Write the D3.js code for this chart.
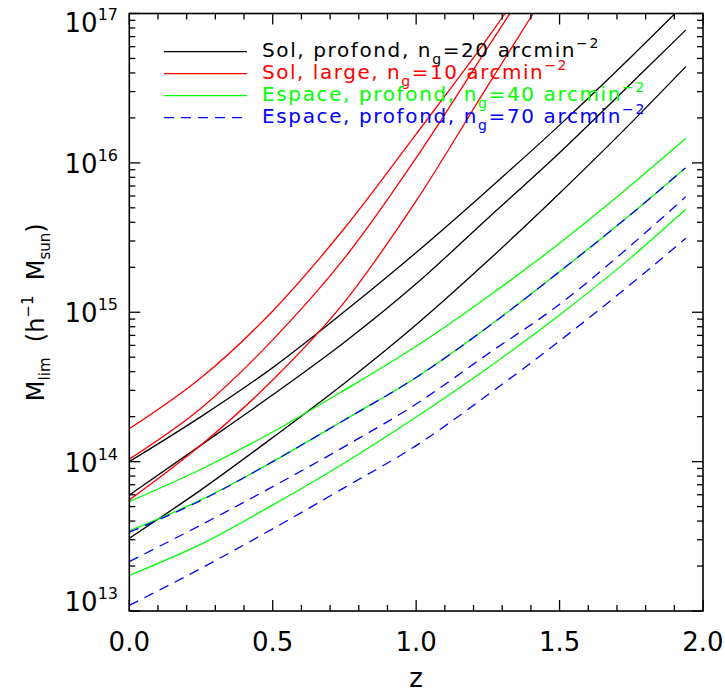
<!DOCTYPE html>
<html>
<head>
<meta charset="utf-8">
<script src="https://cdn.jsdelivr.net/npm/d3@7"></script>
<style>
  body { margin: 0; background: #fff; }
  svg { display: block; }
  text { font-family: "DejaVu Sans", sans-serif; }
</style>
</head>
<body>
<div id="chart"></div>
<script>
// ---- data ----
const zGrid = [0, 0.25, 0.5, 0.75, 1.0, 1.25, 1.5, 1.75, 1.94];

// Sol, profond (black)
const solProfond1 = [1.00e14, 2.00e14, 4.26e14, 1.01e15, 2.51e15, 6.59e15, 1.79e16, 5.14e16, 1.18e17];
const solProfond2 = [5.98e13, 1.29e14, 2.80e14, 6.30e14, 1.55e15, 4.26e15, 1.17e16, 3.41e16, 7.76e16];
const solProfond3 = [3.07e13, 6.47e13, 1.45e14, 3.35e14, 8.25e14, 2.21e15, 6.26e15, 1.86e16, 4.41e16];

// Sol, large (red) — each leaves the top of the frame
const zRed1 = [0, 0.25, 0.5, 0.75, 1.0, 1.25, 1.31];
const solLarge1 = [1.66e14, 3.64e14, 1.02e15, 3.65e15, 1.56e16, 6.86e16, 1.0e17];
const zRed2 = [0, 0.25, 0.5, 0.75, 1.0, 1.25, 1.327];
const solLarge2 = [1.04e14, 2.28e14, 6.53e14, 2.30e15, 1.08e16, 5.94e16, 1.0e17];
const zRed3 = [0, 0.25, 0.5, 0.75, 1.0, 1.25, 1.408];
const solLarge3 = [5.54e13, 1.29e14, 3.52e14, 1.17e15, 5.56e15, 3.29e16, 1.0e17];

// Espace, profond, ng=40 (green)
const espace40a = [5.40e13, 8.89e13, 1.58e14, 3.01e14, 5.92e14, 1.27e15, 2.90e15, 7.11e15, 1.46e16];
const espace40b = [3.44e13, 5.54e13, 1.00e14, 1.90e14, 3.66e14, 7.97e14, 1.87e15, 4.55e15, 9.29e15];
const espace40c = [1.73e13, 2.80e13, 5.13e13, 9.80e13, 1.99e14, 4.24e14, 9.59e14, 2.33e15, 4.89e15];

// Espace, profond, ng=70 (blue dashed)
const espace70a = [3.37e13, 5.50e13, 1.00e14, 1.90e14, 3.66e14, 7.97e14, 1.87e15, 4.55e15, 9.30e15];
const espace70b = [2.14e13, 3.77e13, 6.80e13, 1.26e14, 2.43e14, 5.26e14, 1.13e15, 2.82e15, 5.94e15];
const espace70c = [1.09e13, 1.93e13, 3.55e13, 6.70e13, 1.28e14, 2.80e14, 6.43e14, 1.55e15, 3.13e15];

const xTicks = [0.0, 0.5, 1.0, 1.5, 2.0];
const xTickLabels = ["0.0", "0.5", "1.0", "1.5", "2.0"];
const yDecades = [13, 14, 15, 16, 17];

const legendItems = [
  {label: "Sol, profond, ", ng: "20", color: "#000000", dash: null, end: 600},
  {label: "Sol, large, ", ng: "10", color: "#ff0000", dash: null, end: 568},
  {label: "Espace, profond, ", ng: "40", color: "#00ff00", dash: null, end: 646},
  {label: "Espace, profond, ", ng: "70", color: "#0000ff", dash: "10,7", end: 646}
];

const series = [
  {z: zGrid, m: solProfond1, color: "#000000"},
  {z: zGrid, m: solProfond2, color: "#000000"},
  {z: zGrid, m: solProfond3, color: "#000000"},
  {z: zRed1, m: solLarge1, color: "#ff0000"},
  {z: zRed2, m: solLarge2, color: "#ff0000"},
  {z: zRed3, m: solLarge3, color: "#ff0000"},
  {z: zGrid, m: espace40a, color: "#00ff00"},
  {z: zGrid, m: espace40b, color: "#00ff00"},
  {z: zGrid, m: espace40c, color: "#00ff00"},
  {z: zGrid, m: espace70a, color: "#0000ff", dash: "10,7"},
  {z: zGrid, m: espace70b, color: "#0000ff", dash: "10,7"},
  {z: zGrid, m: espace70c, color: "#0000ff", dash: "10,7"}
];

// ---- layout ----
const W = 725, H = 692;
const L = 129.3, R = 703, T = 13.5, B = 611;

const svg = d3.select("#chart").append("svg").attr("width", W).attr("height", H);

const x = d3.scaleLinear().domain([0, 2]).range([L, R]);
const y = d3.scaleLog().domain([1e13, 1e17]).range([B, T]);

svg.append("clipPath").attr("id", "clip")
  .append("rect").attr("x", L).attr("y", T).attr("width", R - L).attr("height", B - T);

// ---- curves ----
const line = d3.line()
  .x(d => x(d[0]))
  .y(d => y(d[1]))
  .curve(d3.curveMonotoneX);

const plot = svg.append("g").attr("clip-path", "url(#clip)");
series.forEach(s => {
  plot.append("path")
    .datum(s.z.map((zz, i) => [zz, s.m[i]]))
    .attr("d", line)
    .attr("fill", "none")
    .attr("stroke", s.color)
    .attr("stroke-width", 1.3)
    .attr("stroke-dasharray", s.dash || null);
});

// ---- frame & ticks ----
const axisColor = "#000";
svg.append("rect").attr("x", L).attr("y", T).attr("width", R - L).attr("height", B - T)
  .attr("fill", "none").attr("stroke", axisColor).attr("stroke-width", 1.6);

const majLen = 11, minLen = 6;
const tickG = svg.append("g").attr("stroke", axisColor).attr("stroke-width", 1.3);
d3.range(0, 21).forEach(i => {
  const v = i / 10;
  const len = (i % 5 === 0) ? majLen : minLen;
  tickG.append("line").attr("x1", x(v)).attr("x2", x(v)).attr("y1", B).attr("y2", B - len);
  tickG.append("line").attr("x1", x(v)).attr("x2", x(v)).attr("y1", T).attr("y2", T + len);
});
yDecades.forEach(d => {
  const v = Math.pow(10, d);
  tickG.append("line").attr("x1", L).attr("x2", L + majLen).attr("y1", y(v)).attr("y2", y(v));
  tickG.append("line").attr("x1", R).attr("x2", R - majLen).attr("y1", y(v)).attr("y2", y(v));
  if (d < 17) {
    for (let k = 2; k <= 9; k++) {
      const vv = k * v;
      tickG.append("line").attr("x1", L).attr("x2", L + minLen).attr("y1", y(vv)).attr("y2", y(vv));
      tickG.append("line").attr("x1", R).attr("x2", R - minLen).attr("y1", y(vv)).attr("y2", y(vv));
    }
  }
});

// x tick labels
xTicks.forEach((v, i) => {
  svg.append("text").attr("x", x(v)).attr("y", 651)
    .attr("text-anchor", "middle").attr("font-size", 26).attr("fill", "#000")
    .text(xTickLabels[i]);
});
svg.append("text").attr("x", (L + R) / 2).attr("y", 687)
  .attr("text-anchor", "middle").attr("font-size", 26).attr("fill", "#000").text("z");

// y tick labels (10^n)
yDecades.forEach(d => {
  let base = y(Math.pow(10, d)) + 10;
  if (d === 17) base = 32;
  if (d === 13) base = 611;
  const t = svg.append("text").attr("x", 118).attr("y", base)
    .attr("text-anchor", "end").attr("font-size", 26).attr("fill", "#000");
  t.append("tspan").text("10");
  t.append("tspan").attr("dy", -12).attr("font-size", 16).text(String(d));
});

// y axis title
const yt = svg.append("text")
  .attr("transform", "translate(44," + ((T + B) / 2) + ") rotate(-90)")
  .attr("text-anchor", "middle").attr("font-size", 24).attr("fill", "#000");
yt.append("tspan").text("M");
yt.append("tspan").attr("dy", 6).attr("font-size", 15).text("lim");
yt.append("tspan").attr("dy", -6).text("\u00a0 (h");
yt.append("tspan").attr("dy", -11).attr("font-size", 15).text("\u22121");
yt.append("tspan").attr("dy", 11).text("\u00a0 M");
yt.append("tspan").attr("dy", 6).attr("font-size", 15).text("sun");
yt.append("tspan").attr("dy", -6).text(")");

// ---- legend ----
const lg = svg.append("g");
legendItems.forEach((it, i) => {
  const ly = 51.7 + i * 22;
  lg.append("line").attr("x1", 164).attr("x2", 247).attr("y1", ly).attr("y2", ly)
    .attr("stroke", it.color).attr("stroke-width", 1.3)
    .attr("stroke-dasharray", it.dash || null);
  const t = lg.append("text").attr("x", 262).attr("y", ly + 5.5)
    .attr("font-size", 20).attr("fill", it.color);
  t.append("tspan").text(it.label + "n");
  t.append("tspan").attr("dy", 7).attr("font-size", 14).text("g");
  t.append("tspan").attr("dy", -7).text("=" + it.ng + " arcmin");
  t.append("tspan").attr("dy", -9).attr("font-size", 14).text("\u22122");
  // spread letters so the entry spans the same width as in the reference
  const w = t.node().getComputedTextLength();
  const n = t.text().length;
  const ls = Math.max(0, (it.end - 262 - w) / n);
  t.attr("letter-spacing", ls);
});
</script>
</body>
</html>
